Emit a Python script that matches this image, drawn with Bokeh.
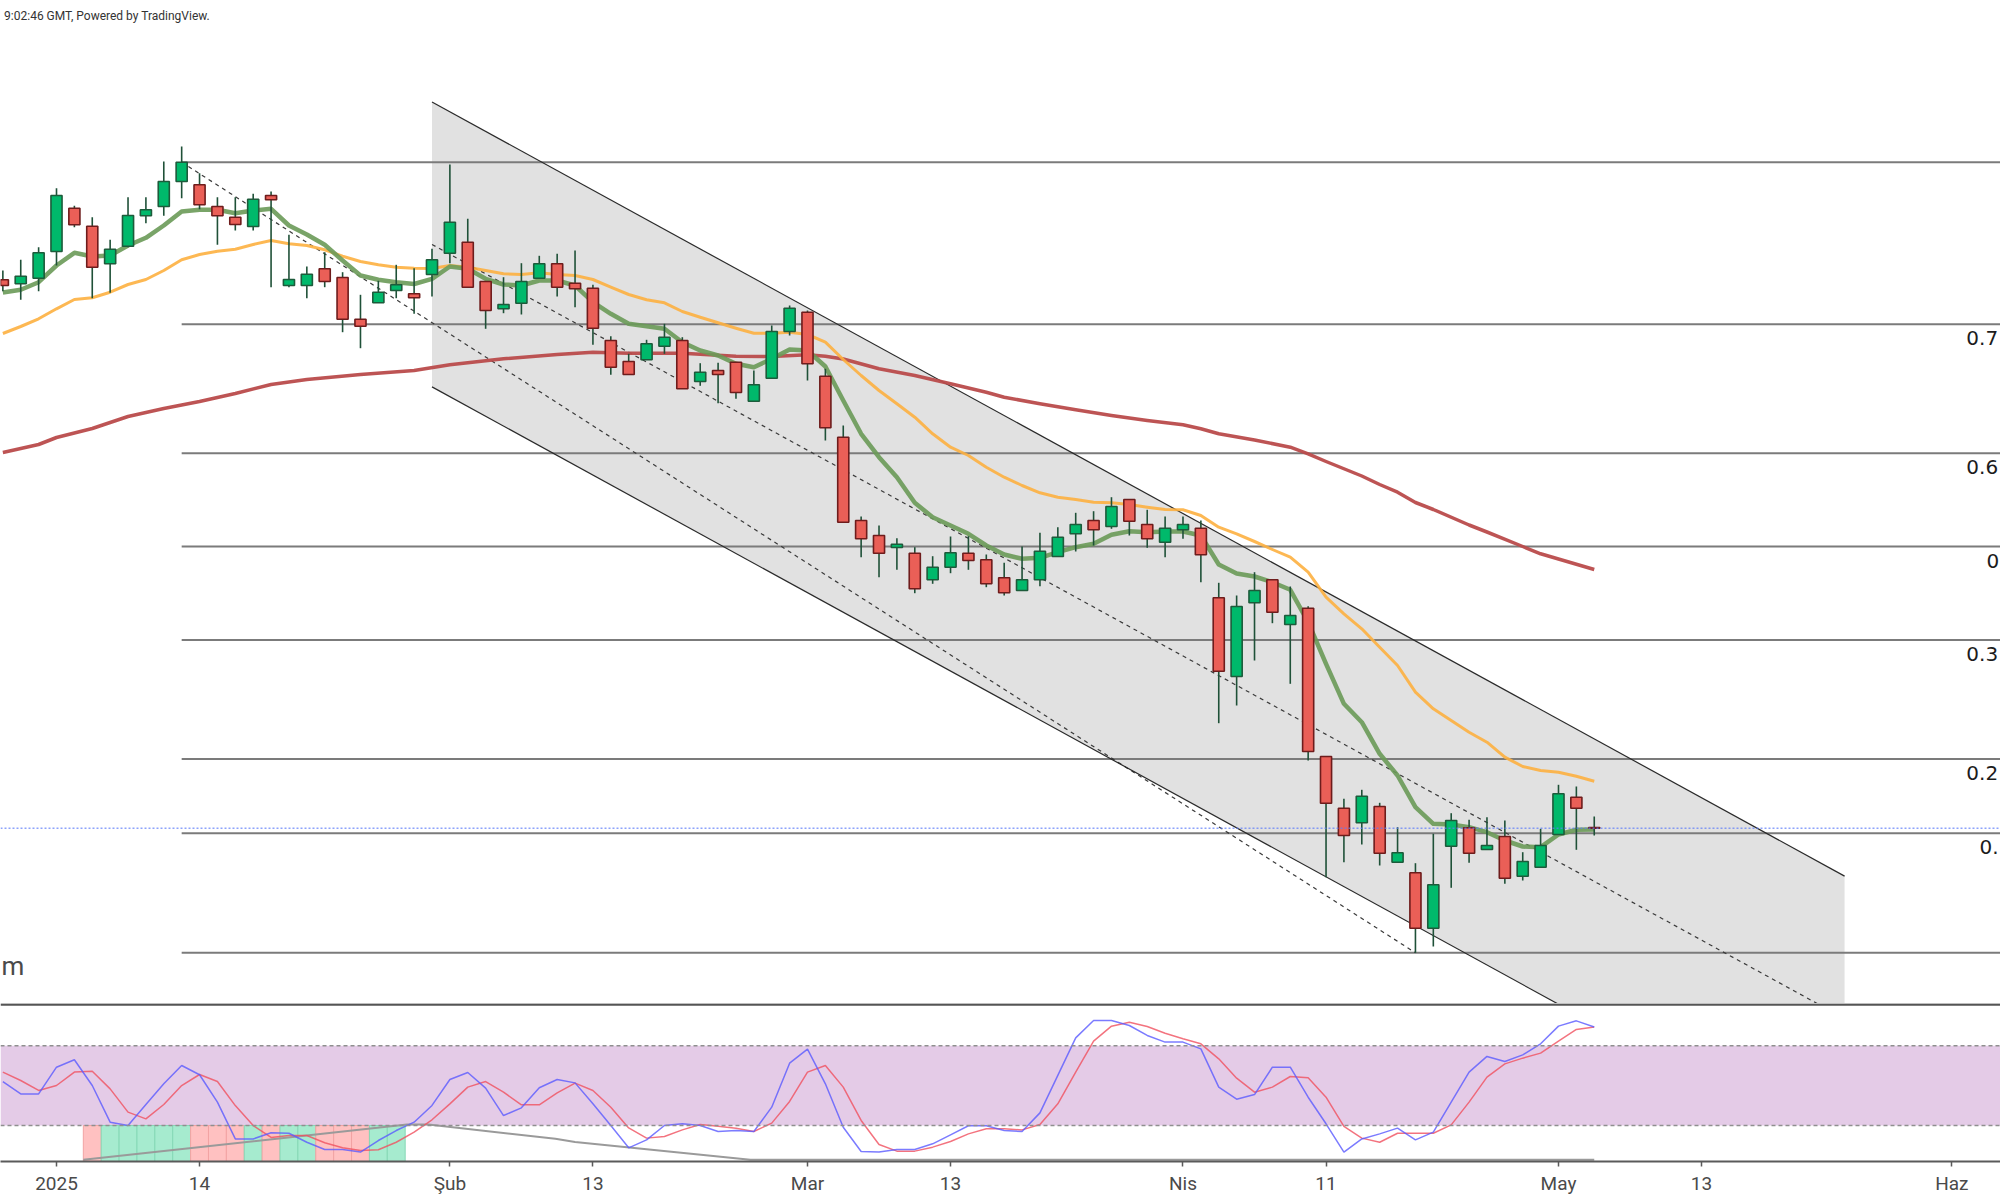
from bokeh.plotting import figure
from bokeh.layouts import column
from bokeh.models import ColumnDataSource, Range1d, FixedTicker, Span, BoxAnnotation, Label
from bokeh.core.properties import value
from bokeh.embed import file_html
from bokeh.resources import INLINE

# ---------------- data (price units arbitrary) ----------------
bars = list(range(-3, 87))
opens = [7.207, 7.167, 7.223, 7.490, 7.923, 7.743, 7.367, 7.543, 7.847, 7.940,
         8.190, 8.157, 7.940, 7.833, 7.740, 8.050, 7.150, 7.150, 7.317, 7.230,
         6.813, 6.977, 7.100, 7.067, 7.260, 7.473, 7.583, 7.190, 6.917, 6.973,
         7.223, 7.367, 7.173, 7.123, 6.600, 6.390, 6.407, 6.543, 6.600, 6.190,
         6.300, 6.383, 5.993, 6.223, 6.690, 6.883, 6.243, 5.633, 4.800, 4.650,
         4.530, 4.473, 4.207, 4.333, 4.473, 4.407, 4.227, 4.100, 4.207, 4.440,
         4.667, 4.800, 4.740, 5.010, 4.760, 4.583, 4.707, 4.723, 4.027, 3.240,
         3.977, 4.207, 3.760, 3.923, 2.440, 1.923, 1.777, 1.940, 1.383, 1.277,
         0.723, 1.543, 1.727, 1.510, 1.640, 1.243, 1.333, 1.660, 2.033, 1.730]
highs = [7.300, 7.407, 7.533, 8.123, 7.947, 7.833, 7.607, 8.033, 8.033, 8.390,
         8.540, 8.273, 8.033, 8.033, 8.067, 8.090, 7.657, 7.340, 7.483, 7.283,
         7.057, 7.197, 7.357, 7.323, 7.517, 8.360, 7.817, 7.190, 7.233, 7.373,
         7.447, 7.467, 7.500, 7.157, 6.643, 6.467, 6.607, 6.767, 6.633, 6.373,
         6.377, 6.383, 6.300, 6.750, 6.950, 6.900, 6.317, 5.750, 4.840, 4.750,
         4.623, 4.533, 4.443, 4.640, 4.643, 4.460, 4.377, 4.540, 4.677, 4.733,
         4.877, 4.893, 5.033, 5.010, 4.907, 4.840, 4.840, 4.800, 4.177, 4.050,
         4.283, 4.207, 4.140, 3.943, 2.440, 2.017, 2.107, 1.977, 1.733, 1.373,
         1.667, 1.873, 1.807, 1.833, 1.800, 1.483, 1.717, 2.157, 2.140, 1.840]
lows = [7.093, 7.007, 7.093, 7.350, 7.733, 7.023, 7.077, 7.533, 7.773, 7.847,
        8.023, 7.913, 7.557, 7.700, 7.700, 7.133, 7.133, 7.023, 7.133, 6.683,
        6.523, 6.977, 7.023, 6.867, 7.040, 7.373, 7.133, 6.717, 6.873, 6.860,
        7.223, 7.040, 6.933, 6.557, 6.257, 6.260, 6.407, 6.467, 6.117, 6.147,
        5.973, 6.017, 5.993, 6.223, 6.650, 6.200, 5.600, 4.783, 4.433, 4.233,
        4.307, 4.073, 4.167, 4.273, 4.307, 4.133, 4.050, 4.100, 4.143, 4.440,
        4.490, 4.550, 4.717, 4.650, 4.527, 4.433, 4.617, 4.183, 2.773, 2.950,
        3.400, 3.773, 3.167, 2.400, 1.233, 1.383, 1.560, 1.350, 1.383, 0.477,
        0.540, 1.127, 1.377, 1.510, 1.167, 1.200, 1.333, 1.660, 1.507, 1.650]
closes = [7.150, 7.243, 7.477, 8.050, 7.757, 7.333, 7.513, 7.850, 7.907, 8.190,
          8.383, 7.957, 7.847, 7.760, 8.013, 8.007, 7.210, 7.263, 7.190, 6.813,
          6.743, 7.083, 7.157, 7.027, 7.407, 7.783, 7.133, 6.900, 6.960, 7.190,
          7.367, 7.133, 7.117, 6.723, 6.333, 6.260, 6.567, 6.633, 6.117, 6.283,
          6.260, 6.080, 6.157, 6.690, 6.923, 6.367, 5.727, 4.783, 4.617, 4.473,
          4.563, 4.117, 4.333, 4.477, 4.400, 4.167, 4.077, 4.207, 4.493, 4.633,
          4.760, 4.707, 4.940, 4.793, 4.617, 4.723, 4.760, 4.457, 3.293, 3.940,
          4.100, 3.883, 3.850, 2.490, 1.973, 1.650, 2.043, 1.473, 1.477, 0.723,
          1.157, 1.800, 1.473, 1.550, 1.223, 1.390, 1.550, 2.067, 1.923, 1.723]

ma_fast = [7.080, 7.107, 7.183, 7.350, 7.477, 7.440, 7.450, 7.550, 7.627, 7.750,
           7.890, 7.907, 7.907, 7.873, 7.900, 7.917, 7.750, 7.660, 7.557, 7.400,
           7.250, 7.207, 7.183, 7.165, 7.217, 7.340, 7.317, 7.217, 7.160, 7.150,
           7.200, 7.200, 7.150, 6.983, 6.867, 6.767, 6.743, 6.717, 6.583, 6.500,
           6.450, 6.367, 6.333, 6.417, 6.510, 6.500, 6.340, 6.000, 5.667, 5.433,
           5.233, 4.977, 4.833, 4.750, 4.667, 4.550, 4.460, 4.417, 4.427, 4.483,
           4.533, 4.567, 4.657, 4.693, 4.683, 4.690, 4.690, 4.650, 4.360, 4.270,
           4.240, 4.183, 4.107, 3.783, 3.367, 2.967, 2.783, 2.467, 2.250, 1.933,
           1.767, 1.760, 1.733, 1.683, 1.600, 1.540, 1.533, 1.660, 1.707, 1.710]
ma_mid = [6.670, 6.740, 6.817, 6.917, 7.010, 7.027, 7.083, 7.160, 7.210, 7.300,
          7.407, 7.460, 7.493, 7.513, 7.560, 7.600, 7.567, 7.550, 7.507, 7.443,
          7.390, 7.357, 7.333, 7.323, 7.320, 7.350, 7.333, 7.300, 7.267, 7.260,
          7.277, 7.260, 7.250, 7.210, 7.133, 7.060, 7.007, 6.977, 6.890, 6.833,
          6.777, 6.723, 6.673, 6.673, 6.683, 6.660, 6.583, 6.410, 6.250, 6.100,
          5.967, 5.833, 5.667, 5.533, 5.450, 5.333, 5.233, 5.150, 5.077, 5.033,
          5.010, 4.983, 4.977, 4.960, 4.933, 4.910, 4.907, 4.850, 4.733, 4.667,
          4.590, 4.510, 4.433, 4.283, 4.033, 3.867, 3.717, 3.533, 3.350, 3.083,
          2.917, 2.800, 2.683, 2.583, 2.433, 2.340, 2.300, 2.283, 2.243, 2.193]
ma_slow_bars = [-3, -1, 0, 2, 4, 6, 8, 10, 12, 14, 17, 20, 22, 25, 28, 30, 32, 35,
                38, 40, 42, 43, 44, 46, 48, 50, 52, 53, 55, 57, 59, 61, 63, 64, 65,
                67, 69, 70, 71, 73, 74, 75, 76, 77, 79, 80, 82, 83, 84, 86]
ma_slow = [5.480, 5.560, 5.630, 5.720, 5.840, 5.920, 5.990, 6.070, 6.160, 6.210,
           6.260, 6.300, 6.357, 6.417, 6.460, 6.483, 6.473, 6.473, 6.443, 6.440,
           6.457, 6.443, 6.415, 6.317, 6.250, 6.167, 6.083, 6.033, 5.967, 5.907,
           5.850, 5.800, 5.757, 5.717, 5.667, 5.605, 5.533, 5.467, 5.390, 5.245,
           5.160, 5.083, 4.980, 4.910, 4.755, 4.685, 4.540, 4.467, 4.415, 4.310]

fib_levels = [8.383, 6.763, 5.472, 4.540, 3.605, 2.415, 1.673, 0.477]
fib_label_text = ["0.7", "0.6", "0", "0.3", "0.2", "0."]
fib_anchor_bars = [7, 76]

channel_bars = [21, 100]
channel_upper = [8.985, 1.244]
channel_width = 2.849

stoch_k = [53.1, 43.8, 43.8, 63.9, 69.5, 50.1, 22.5, 20.0, 35.8, 51.4,
           65.2, 58.2, 37.6, 9.9, 9.9, 14.5, 14.2, 7.4, 1.9, 1.9,
           0.0, 8.7, 16.2, 22.5, 35.1, 54.6, 59.9, 48.1, 27.5, 33.3,
           48.4, 54.6, 52.1, 36.3, 20.0, 3.2, 9.2, 20.0, 21.3, 20.0,
           15.5, 16.2, 15.5, 33.8, 66.9, 77.5, 51.4, 18.7, 0.4, 0.0,
           1.9, 1.9, 6.2, 13.0, 19.8, 19.8, 16.2, 15.5, 29.5, 57.7,
           86.0, 99.0, 99.0, 95.3, 87.8, 82.8, 82.8, 77.7, 48.9, 39.8,
           43.3, 63.9, 63.9, 41.3, 21.3, 0.0, 9.9, 13.7, 18.0, 9.2,
           15.0, 37.6, 60.2, 72.0, 68.2, 73.2, 81.5, 94.8, 98.8, 94.1]
stoch_d = [60.2, 53.9, 46.4, 50.1, 60.2, 60.9, 47.6, 30.1, 25.0, 35.8,
           50.1, 58.4, 53.1, 35.0, 20.0, 11.0, 12.5, 12.5, 7.0, 3.2,
           1.2, 1.7, 7.4, 15.0, 24.3, 36.3, 48.9, 53.1, 45.1, 35.6,
           35.6, 44.6, 51.9, 46.4, 33.8, 18.2, 10.5, 11.7, 16.7, 20.8,
           19.5, 18.0, 15.5, 21.8, 38.1, 60.2, 65.2, 48.9, 23.8, 5.7,
           0.7, 0.7, 3.7, 8.0, 13.7, 17.5, 17.5, 16.7, 20.8, 36.3,
           60.2, 83.5, 94.8, 97.8, 94.5, 89.5, 85.3, 81.5, 70.2, 55.6,
           45.1, 48.9, 56.9, 55.9, 41.3, 19.3, 10.5, 7.4, 14.2, 14.2,
           14.2, 20.5, 37.6, 56.4, 66.4, 70.7, 74.5, 83.5, 92.3, 94.1]
band_low, band_high = 20, 80

signal_bars = list(range(2, 20))
signal_side = ["dn", "up", "up", "up", "up", "up", "dn", "dn", "dn", "up",
               "dn", "up", "up", "dn", "dn", "dn", "up", "up"]

trend_bars = [1.5, 19.6, 20.8, 27.9, 29.0, 38.8, 86.0]
trend_vals = [-5.8, 20.8, 20.8, 10.0, 7.5, -5.8, -5.8]

tick_bars = [0, 8, 22, 30, 42, 50, 63, 71, 84, 92, 106]
tick_labels = ["2025", "14", "Şub", "13", "Mar", "13", "Nis", "11", "May", "13", "Haz"]

# ---------------- styling ----------------
W = 2000
X_START, X_END = -3.132, 108.72
UP_FILL, DN_FILL = "#00b96b", "#ea5f57"
UP_EDGE, DN_EDGE = "#1d5b3b", "#6e1c1c"
WICK = "#1f5138"

p1 = figure(width=W, height=1003, x_range=Range1d(X_START, X_END),
            y_range=Range1d(-0.03, 10.0), output_backend="svg",
            toolbar_location=None, x_axis_location=None, y_axis_location=None,
            min_border_left=0, min_border_right=0, min_border_top=0, min_border_bottom=0)
p1.outline_line_color = None
p1.grid.visible = False
p1.background_fill_color = "white"
p1.border_fill_color = "white"

# channel
c_up = channel_upper
c_lo = [v - channel_width for v in channel_upper]
c_mid = [v - channel_width / 2 for v in channel_upper]
p1.patch(x=[channel_bars[0], channel_bars[1], channel_bars[1], channel_bars[0]],
         y=[c_up[0], c_up[1], c_lo[1], c_lo[0]],
         fill_color="#e1e1e1", line_color=None)

# horizontal levels
p1.segment(x0=[fib_anchor_bars[0]] * len(fib_levels), x1=[X_END + 5] * len(fib_levels),
           y0=fib_levels, y1=fib_levels, line_color="#7b7b7b", line_width=2)
# fib diagonal
p1.line(x=fib_anchor_bars, y=[fib_levels[0], fib_levels[-1]], line_color="#3a3a3a",
        line_width=1.2, line_dash="4 4")
# channel borders
p1.line(x=channel_bars, y=c_up, line_color="#2a2a2a", line_width=1.2)
p1.line(x=channel_bars, y=c_lo, line_color="#2a2a2a", line_width=1.2)
p1.line(x=channel_bars, y=c_mid, line_color="#3a3a3a", line_width=1.2, line_dash="4 4")

# last price line
p1.add_layout(Span(location=closes[-1], dimension="width", line_color="#5c7cfa",
                   line_dash="2 2", line_width=1.5, line_alpha=0.7))

# moving averages
p1.line(x=ma_slow_bars, y=ma_slow, line_color="#b94b4b", line_width=3.5, line_alpha=0.95,
        line_join="round")
p1.line(x=bars, y=ma_mid, line_color="#fdb040", line_width=3, line_alpha=0.9, line_join="round")
p1.line(x=bars, y=ma_fast, line_color="#6a9a58", line_width=4.5, line_alpha=0.9,
        line_join="round")

# candles
up = [c >= o for o, c in zip(opens, closes)]
src = ColumnDataSource(dict(
    x=bars, o=opens, h=highs, l=lows, c=closes,
    top=[max(o, c) for o, c in zip(opens, closes)],
    bot=[min(o, c) for o, c in zip(opens, closes)],
    fill=[UP_FILL if u else DN_FILL for u in up],
    edge=[UP_EDGE if u else DN_EDGE for u in up],
))
p1.segment(x0="x", x1="x", y0="h", y1="l", source=src, line_color=WICK, line_width=1.6)
p1.vbar(x="x", width=0.62, top="top", bottom="bot", source=src, fill_color="fill",
        line_color="edge", line_width=1.6)

# level labels near the right edge
lab_x = [106.81, 106.81, 107.94, 106.81, 106.81, 107.55]
p1.text(x=lab_x, y=[v - 0.14 for v in fib_levels[1:7]], text=fib_label_text,
        text_font=value("DejaVu Sans"), text_font_size="20px", text_color="#1c1c1c",
        text_baseline="middle", text_align="left")
p1.text(x=[X_START + 0.05], y=[0.35], text=["m"], text_font=value("Roboto"),
        text_font_size="26px", text_color="#4a4a4a", text_baseline="middle",
        text_align="left")
p1.add_layout(Label(x=-2.93, y=9.85, text="9:02:46 GMT, Powered by TradingView.",
                    text_font="Roboto", text_font_size="12px", text_color="#333333",
                    text_baseline="middle", text_align="left"))

# ---------------- lower panel ----------------
p2 = figure(width=W, height=197, x_range=p1.x_range, y_range=Range1d(-7.1, 111.85),
            output_backend="svg", toolbar_location=None, y_axis_location=None,
            min_border_left=0, min_border_right=0, min_border_top=0, min_border_bottom=39)
p2.outline_line_color = None
p2.grid.visible = False
p2.background_fill_color = "white"
p2.border_fill_color = "white"

p2.add_layout(BoxAnnotation(bottom=band_low, top=band_high, fill_color="#e4cbe7",
                            fill_alpha=1.0, line_color=None, level="underlay"))
for lvl in (band_low, band_high):
    p2.add_layout(Span(location=lvl, dimension="width", line_color="#8f8f8f",
                       line_dash="4 3", line_width=1.5))

sig_src = ColumnDataSource(dict(
    left=[b - 0.5 for b in signal_bars], right=[b + 0.5 for b in signal_bars],
    fill=["#ffc1c1" if s == "dn" else "#a6ebcf" for s in signal_side],
    edge=["#f2a3a3" if s == "dn" else "#86d8b6" for s in signal_side],
))
p2.quad(left="left", right="right", top=band_low, bottom=-7.1, source=sig_src,
        fill_color="fill", line_color="edge", line_width=1)

p2.line(x=trend_bars, y=trend_vals, line_color="#9a9a9a", line_width=2)
p2.line(x=bars, y=stoch_d, line_color="#f0505f", line_width=1.5, line_alpha=0.8)
p2.line(x=bars, y=stoch_k, line_color="#5a5aff", line_width=1.5, line_alpha=0.8)

p2.add_layout(Span(location=111.1, dimension="width", line_color="#555555", line_width=2.5))

ax = p2.xaxis[0]
ax.ticker = FixedTicker(ticks=tick_bars)
ax.major_label_overrides = {b: t for b, t in zip(tick_bars, tick_labels)}
ax.major_label_text_font = "Roboto"
ax.major_label_text_font_size = "19px"
ax.major_label_text_color = "#4a4a4a"
ax.major_label_standoff = 5
ax.major_tick_in = 0
ax.major_tick_out = 5
ax.minor_tick_in = 0
ax.minor_tick_out = 0
ax.axis_line_color = "#5a5a5a"
ax.axis_line_width = 2
ax.major_tick_line_color = "#5a5a5a"
ax.major_tick_line_width = 1.5

layout = column(p1, p2)
open("out.html", "w").write(file_html(layout, INLINE))
